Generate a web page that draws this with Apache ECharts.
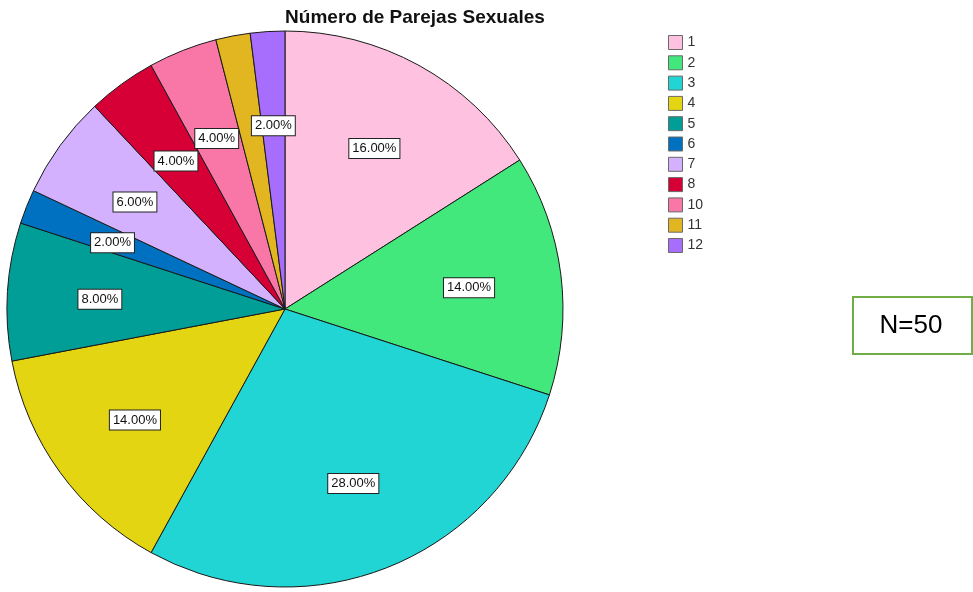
<!DOCTYPE html>
<html>
<head>
<meta charset="utf-8">
<script src="https://cdn.jsdelivr.net/npm/echarts@6/dist/echarts.min.js"></script>
<style>
  html, body { margin: 0; padding: 0; background: #fff; }
  #chart { width: 973px; height: 592px; }
</style>
</head>
<body>
<div id="chart"></div>
<script>
// Number of sexual partners reported (N = 50)
const categories = ['1', '2', '3', '4', '5', '6', '7', '8', '10', '11', '12'];
const counts = [8, 7, 14, 7, 4, 1, 3, 2, 2, 1, 1];
const sliceColors = ['#FEC1E0', '#43E87D', '#22D5D5', '#E3D511', '#009E97', '#0071C1',
                     '#D3B1FE', '#D60036', '#F977A6', '#E2B621', '#A76EFE'];
const hiddenLabels = ['11'];

const total = counts.reduce((a, b) => a + b, 0);
const FONT = 'Arial, "Liberation Sans", sans-serif';

const pieData = categories.map((c, i) => ({
  name: c,
  value: counts[i],
  itemStyle: { color: sliceColors[i] }
}));

const labelData = categories.map((c, i) => ({
  name: c,
  value: counts[i],
  label: { show: hiddenLabels.indexOf(c) < 0 }
}));

const chart = echarts.init(document.getElementById('chart'), null, { renderer: 'canvas' });

chart.setOption({
  animation: false,
  backgroundColor: '#ffffff',
  title: {
    text: 'Número de Parejas Sexuales',
    left: 410,
    textAlign: 'center',
    top: 3,
    textStyle: { fontFamily: FONT, fontSize: 19, fontWeight: 'bold', color: '#111' }
  },
  legend: {
    orient: 'vertical',
    left: 668,
    top: 35,
    padding: 0,
    icon: 'rect',
    itemWidth: 14,
    itemHeight: 14,
    itemGap: 5.3,
    data: categories,
    itemStyle: { borderColor: '#6a6a6a', borderWidth: 1 },
    textStyle: { fontFamily: FONT, fontSize: 14, lineHeight: 14, color: '#333' }
  },
  series: [
    {
      type: 'pie',
      center: [285, 309],
      radius: 278,
      startAngle: 90,
      clockwise: true,
      silent: true,
      label: { show: false },
      labelLine: { show: false },
      itemStyle: { borderColor: '#1a1a1a', borderWidth: 1 },
      data: pieData
    },
    {
      // transparent ring used only to place the percentage labels
      type: 'pie',
      center: [285, 311],
      radius: [0, 365],
      startAngle: 90,
      clockwise: true,
      silent: true,
      itemStyle: { color: 'rgba(0,0,0,0)', borderWidth: 0 },
      labelLine: { show: false },
      label: {
        show: true,
        position: 'inside',
        formatter: p => (p.value / total * 100).toFixed(2) + '%',
        fontFamily: FONT,
        fontSize: 13,
        lineHeight: 14,
        color: '#111',
        backgroundColor: '#ffffff',
        borderColor: '#222',
        borderWidth: 1,
        padding: [3, 3, 2, 3]
      },
      data: labelData
    }
  ],
  graphic: [
    {
      type: 'rect',
      left: 852,
      top: 296,
      shape: { width: 119, height: 57 },
      style: { fill: '#fff', stroke: '#70AD47', lineWidth: 2 }
    },
    {
      type: 'text',
      x: 911,
      y: 326,
      style: {
        text: 'N=50',
        font: '26px ' + FONT,
        fill: '#000',
        textAlign: 'center',
        textVerticalAlign: 'middle'
      }
    }
  ]
});
</script>
</body>
</html>
